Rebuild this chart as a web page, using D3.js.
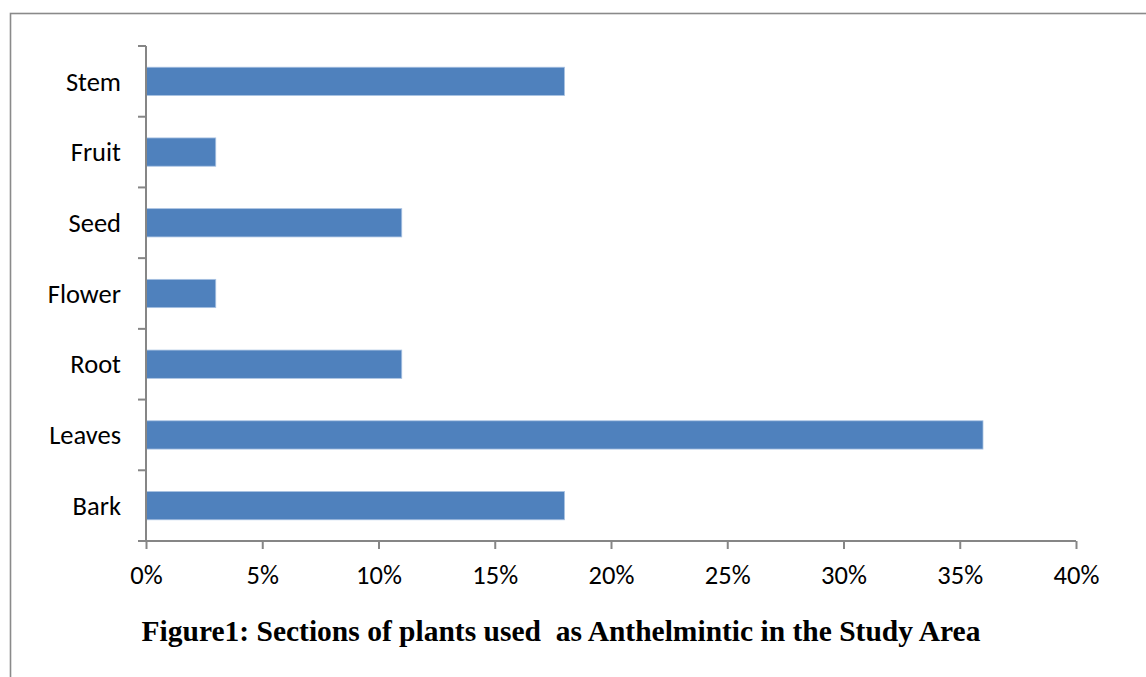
<!DOCTYPE html>
<html>
<head>
<meta charset="utf-8">
<script src="https://cdn.jsdelivr.net/npm/d3@7/dist/d3.min.js"></script>
<style>
  html, body { margin: 0; padding: 0; background: #fff; }
  svg { display: block; }
</style>
</head>
<body>
<svg id="chart" width="1146" height="677"></svg>
<script>
// Plant parts, listed bottom to top as they appear on the axis
const categories = ["Bark", "Leaves", "Root", "Flower", "Seed", "Fruit", "Stem"];
const percentages = [18, 36, 11, 3, 11, 3, 18];
const xTicks = [0, 5, 10, 15, 20, 25, 30, 35, 40];
const titleText = "Figure1: Sections of plants used  as Anthelmintic in the Study Area";

const svg = d3.select("#chart");
const W = 1146, H = 677;
const margin = { left: 146, right: W - 1076, top: 46, bottom: H - 541 };

const axisColor = "#868686";
const barColor = "#4F81BD";
const labelFont = "Carlito, 'Open Sans', sans-serif";
const labelSize = 26.5;

// outer frame of the figure
svg.append("rect")
  .attr("x", 10.5).attr("y", 13.5)
  .attr("width", W + 20).attr("height", H + 20)
  .attr("fill", "none")
  .attr("stroke", "#8a8a8a")
  .attr("stroke-width", 1.6);

const x = d3.scaleLinear().domain([0, 40]).range([margin.left, W - margin.right]);
const y = d3.scaleBand()
  .domain(categories.slice().reverse())
  .range([margin.top, H - margin.bottom])
  .paddingInner(0.6)
  .paddingOuter(0.3);

// bars
svg.append("g").selectAll("rect")
  .data(categories.map((c, i) => ({ c, v: percentages[i] })))
  .join("rect")
  .attr("x", x(0))
  .attr("y", d => y(d.c))
  .attr("width", d => x(d.v) - x(0))
  .attr("height", y.bandwidth())
  .attr("fill", barColor)
  .attr("stroke", "#a9c2e2")
  .attr("stroke-width", 0.8);

// y axis: ticks sit on category boundaries
const yAxis = svg.append("g").attr("class", "y-axis");
const boundaries = d3.range(categories.length + 1).map(i => margin.top + i * (H - margin.bottom - margin.top) / categories.length);
yAxis.append("line")
  .attr("x1", x(0)).attr("x2", x(0))
  .attr("y1", margin.top).attr("y2", H - margin.bottom)
  .attr("stroke", axisColor).attr("stroke-width", 2);
yAxis.selectAll("line.tick")
  .data(boundaries)
  .join("line")
  .attr("class", "tick")
  .attr("x1", x(0) - 8).attr("x2", x(0))
  .attr("y1", d => d).attr("y2", d => d)
  .attr("stroke", axisColor).attr("stroke-width", 2);
yAxis.selectAll("text")
  .data(categories)
  .join("text")
  .attr("x", x(0) - 25)
  .attr("y", d => y(d) + y.bandwidth() / 2)
  .attr("dy", "0.35em")
  .attr("text-anchor", "end")
  .attr("font-family", labelFont)
  .attr("font-size", labelSize)
  .attr("fill", "#000")
  .text(d => d);

// x axis
const xAxis = d3.axisBottom(x)
  .tickValues(xTicks)
  .tickFormat(d => d + "%")
  .tickSize(8)
  .tickPadding(16);
const gx = svg.append("g")
  .attr("transform", `translate(0,${H - margin.bottom})`)
  .call(xAxis);
gx.select(".domain").attr("stroke", axisColor).attr("stroke-width", 2)
  .attr("d", `M${x(0)},0H${x(40)}`);
gx.selectAll(".tick line").attr("stroke", axisColor).attr("stroke-width", 2);
gx.selectAll(".tick text")
  .attr("font-family", labelFont)
  .attr("font-size", labelSize)
  .attr("fill", "#000");

// caption
svg.append("text")
  .attr("x", 561)
  .attr("y", 641)
  .attr("text-anchor", "middle")
  .attr("font-family", "'Liberation Serif', 'Times New Roman', serif")
  .attr("font-weight", "bold")
  .attr("font-size", 29.5)
  .attr("fill", "#000")
  .style("white-space", "pre")
  .text(titleText);
</script>
</body>
</html>
